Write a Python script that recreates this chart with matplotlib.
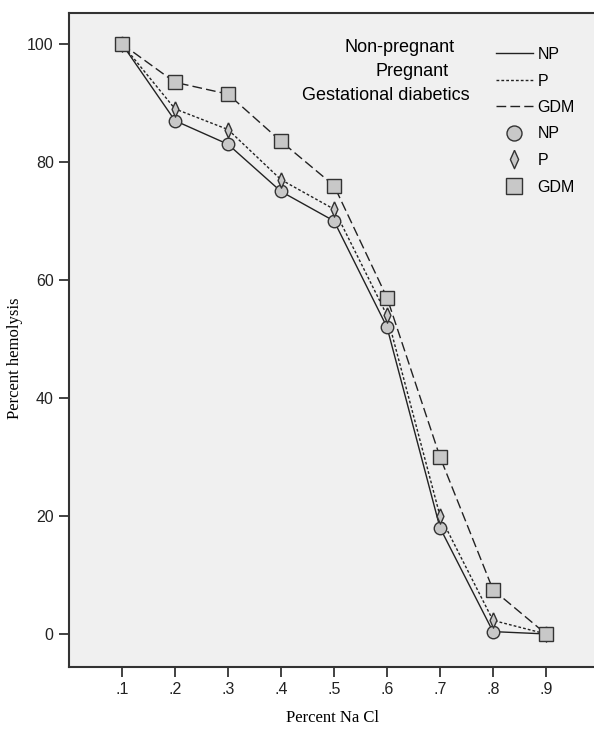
import numpy as np
import matplotlib
matplotlib.use("Agg")
import matplotlib.pyplot as plt

# Percent NaCl concentrations
nacl = [0.1, 0.2, 0.3, 0.4, 0.5, 0.6, 0.7, 0.8, 0.9]
tick_labels = ['.1', '.2', '.3', '.4', '.5', '.6', '.7', '.8', '.9']

# Percent hemolysis for each group
np_vals = [100, 87, 83, 75, 70, 52, 18, 0.4, 0]
p_vals = [100, 89, 85.5, 77, 72, 54, 20, 2.3, 0]
gdm_vals = [100, 93.5, 91.5, 83.5, 76, 57, 30, 7.5, 0]

sans = ['Liberation Sans Narrow', 'Liberation Sans', 'DejaVu Sans']
serif = ['Liberation Serif', 'DejaVu Serif']

W, H = 594, 735
fig = plt.figure(figsize=(W / 100, H / 100), dpi=100)
# frame runs off the right edge of the picture, as in the original
ax = fig.add_axes([69 / W, 1 - 667 / H, (599 - 69) / W, (667 - 13) / H])
ax.set_facecolor('#f0f0f0')

thin_diamond = [(0, 1), (0.45, 0), (0, -1), (-0.45, 0), (0, 1)]
mfill = '#c8c8c8'
edge = '#333333'

l_np, = ax.plot(nacl, np_vals, '-', color='#222222', lw=1.0)
l_p, = ax.plot(nacl, p_vals, color='#222222', lw=1.0, linestyle=(0, (2, 1.5)))
l_gdm, = ax.plot(nacl, gdm_vals, color='#222222', lw=1.0, linestyle=(0, (7, 3)))

m_np, = ax.plot(nacl, np_vals, 'o', ms=9, mfc=mfill, mec=edge, mew=1.0, ls='none')
m_p, = ax.plot(nacl, p_vals, marker=thin_diamond, ms=11, mfc=mfill, mec=edge, mew=1.0, ls='none')
m_gdm, = ax.plot(nacl, gdm_vals, 's', ms=10, mfc=mfill, mec=edge, mew=1.0, ls='none')

ax.set_xlim(0.0, 1.0)
ax.set_ylim(-5.6, 105.25)
ax.set_xticks(nacl)
ax.set_xticklabels(tick_labels, family=sans, fontsize=11.5)
ax.set_yticks([0, 20, 40, 60, 80, 100])
ax.set_yticklabels(['0', '20', '40', '60', '80', '100'], family=sans, fontsize=11.5)
ax.tick_params(direction='out', length=7, width=1.2, colors='#222222', pad=4)

for side in ['left', 'bottom', 'top']:
    ax.spines[side].set_linewidth(1.5)
    ax.spines[side].set_color('#333333')
ax.spines['right'].set_visible(False)

fig.text(333 / W, 1 - 718 / H, 'Percent Na Cl', ha='center', va='center',
         family=serif, fontsize=12)
fig.text(15 / W, 1 - 358 / H, 'Percent hemolysis', ha='center', va='center',
         rotation=90, family=serif, fontsize=12)

# group names block
fig.text(455 / W, 1 - 48 / H, 'Non-pregnant', ha='right', va='center', family=sans, fontsize=13)
fig.text(449 / W, 1 - 72 / H, 'Pregnant', ha='right', va='center', family=sans, fontsize=13)
fig.text(470 / W, 1 - 96 / H, 'Gestational diabetics', ha='right', va='center', family=sans, fontsize=13)

leg = ax.legend([l_np, l_p, l_gdm, m_np, m_p, m_gdm],
                ['NP', 'P', 'GDM', 'NP', 'P', 'GDM'],
                loc='upper left', bbox_to_anchor=((496 - 69) / 530, 1 - (47 - 13) / 654),
                frameon=False, prop={'family': sans, 'size': 11.5},
                handlelength=2.3, handletextpad=0.3, labelspacing=0.72,
                borderaxespad=0, borderpad=0, numpoints=1, markerscale=1.2)

fig.savefig('out.png', dpi=100)
